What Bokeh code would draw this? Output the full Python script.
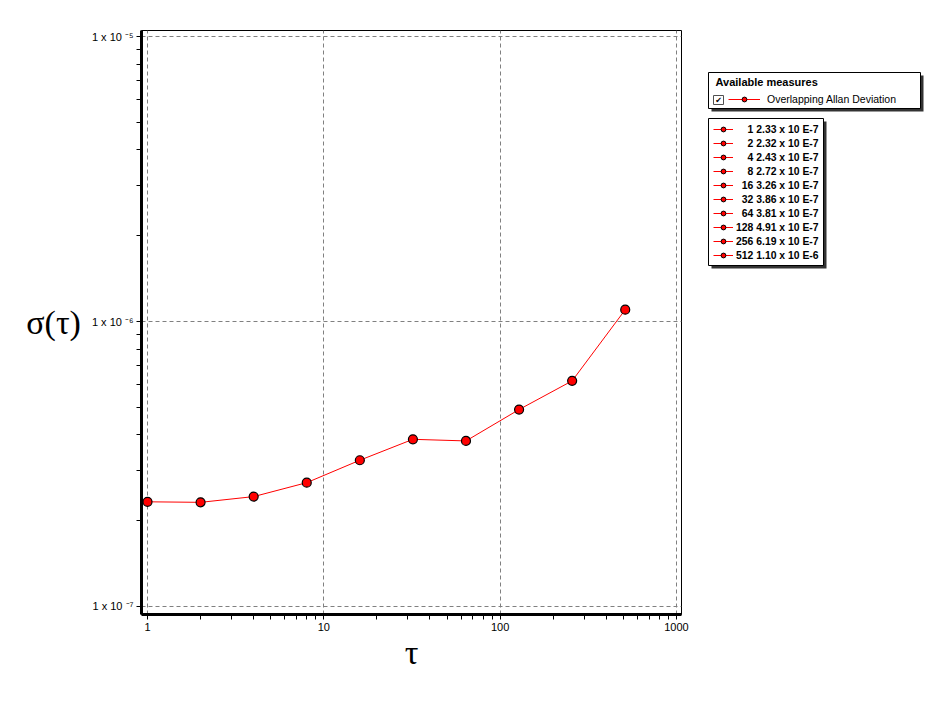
import math
from bokeh.plotting import figure
from bokeh.layouts import row
from bokeh.models import (Range1d, FixedTicker, CustomJSTickFormatter, Label,
                          BoxAnnotation, Legend, LegendItem)
from bokeh.embed import file_html
from bokeh.resources import INLINE

# ---------------- data ----------------
tau = [1, 2, 4, 8, 16, 32, 64, 128, 256, 512]
sigma = [2.33e-7, 2.32e-7, 2.43e-7, 2.72e-7, 3.26e-7, 3.86e-7, 3.81e-7, 4.91e-7, 6.19e-7, 1.10e-6]

x_major_ticks = [1, 10, 100, 1000]
x_minor_ticks = [2, 3, 4, 5, 6, 7, 8, 9, 20, 30, 40, 50, 60, 70, 80, 90,
                 200, 300, 400, 500, 600, 700, 800, 900]
y_major_ticks = [1e-7, 1e-6, 1e-5]
y_minor_ticks = [2e-7, 3e-7, 4e-7, 5e-7, 6e-7, 7e-7, 8e-7, 9e-7,
                 2e-6, 3e-6, 4e-6, 5e-6, 6e-6, 7e-6, 8e-6, 9e-6]
y_tick_base = "1 x 10"
y_tick_exponents = ["-7", "-6", "-5"]

x_title = "τ"
y_title = "σ(τ)"
legend_title = "Available measures"
series_name = "Overlapping Allan Deviation"

# ---------------- layout (page px) ----------------
H = 690
FL, FR, FT, FB = 141, 681, 30, 614   # main frame edges
WM = FR + 10                          # main figure width
WR = 930 - WM                         # legend strip width
RX0 = WM

XMIN, XMAX = 0.9245, 1067.6
YMIN, YMAX = 9.374e-8, 1.0497e-5

SUP = str.maketrans("-0123456789", "⁻⁰¹²³⁴⁵⁶⁷⁸⁹")
y_tick_labels = [f"{y_tick_base} {ex.translate(SUP)}" for ex in y_tick_exponents]

# ---------------- main plot ----------------
p = figure(width=WM, height=H, x_axis_type="log", y_axis_type="log",
           x_range=Range1d(XMIN, XMAX), y_range=Range1d(YMIN, YMAX),
           output_backend="svg", toolbar_location=None,
           min_border_left=FL, min_border_right=WM - FR,
           min_border_top=FT, min_border_bottom=H - FB)
p.background_fill_color = "white"
p.border_fill_color = "white"
p.outline_line_color = "black"
p.outline_line_width = 1

p.xaxis.ticker = FixedTicker(ticks=x_major_ticks, minor_ticks=x_minor_ticks)
p.yaxis.ticker = FixedTicker(ticks=y_major_ticks, minor_ticks=y_minor_ticks)
p.xaxis.formatter = CustomJSTickFormatter(code="return String(Math.round(tick));")
p.yaxis.formatter = CustomJSTickFormatter(
    args=dict(tvals=y_major_ticks, tlabels=y_tick_labels),
    code="""
const e = Math.round(Math.log10(tick));
for (let i = 0; i < tvals.length; i++) {
  if (Math.round(Math.log10(tvals[i])) == e) { return tlabels[i]; }
}
return '';
""")
for ax in (p.xaxis[0], p.yaxis[0]):
    ax.axis_line_width = 3
    ax.axis_line_color = "black"
    ax.major_tick_in = 0
    ax.major_tick_out = 5
    ax.minor_tick_in = 0
    ax.minor_tick_out = 5
    ax.major_tick_line_color = "black"
    ax.minor_tick_line_color = "black"
    ax.major_label_text_font = "Liberation Sans"
    ax.major_label_text_font_size = "11px"
    ax.major_label_text_color = "black"
    ax.axis_label_text_font = "Liberation Serif"
    ax.axis_label_text_font_size = "34px"
    ax.axis_label_text_font_style = "normal"
    ax.axis_label_text_color = "black"
p.yaxis.major_label_standoff = 3
p.xaxis.major_label_standoff = 3
p.xaxis.axis_label = x_title
p.xaxis.axis_label_standoff = 0
p.yaxis.axis_label = y_title
p.yaxis.axis_label_orientation = "horizontal"
p.yaxis.axis_label_standoff = 8

for g in (p.xgrid[0], p.ygrid[0]):
    g.grid_line_color = "#808080"
    g.grid_line_dash = "4 3"
    g.grid_line_width = 1

line_r = p.line(tau, sigma, line_color="red", line_width=1)
pts_r = p.scatter(tau, sigma, size=9, fill_color="red", line_color="black", line_width=1.2)

# ---------------- right strip: legends ----------------
right = figure(width=WR, height=H, x_range=Range1d(RX0, RX0 + WR), y_range=Range1d(FB, FT),
               output_backend="svg", toolbar_location=None,
               x_axis_location=None, y_axis_location=None,
               min_border_left=0, min_border_right=0,
               min_border_top=FT, min_border_bottom=H - FB)
right.outline_line_color = None
right.xgrid.visible = False
right.ygrid.visible = False
right.background_fill_color = "white"
right.border_fill_color = "white"

# legend glyph sources (same series; they lie outside this strip's ranges)
lg_line = right.line(tau, sigma, line_color="red", line_width=1)
lg_pts = right.scatter(tau, sigma, size=8, fill_color="red", line_color="black", line_width=1)

def box(l, t, r, b, fill, line=None):
    kw = dict(left=l, right=r, top=t, bottom=b, fill_color=fill, fill_alpha=1)
    if line is None:
        kw.update(line_alpha=0)
    else:
        kw.update(line_color=line, line_width=1, line_alpha=1)
    return BoxAnnotation(**kw)

# legend 1
right.add_layout(box(711, 75, 923, 111, "#333333"))
right.add_layout(box(708, 72, 920, 108, "white", "black"))
right.add_layout(Label(x=715, y=81, text=legend_title, text_align="left",
                       text_baseline="middle", text_font="Liberation Sans",
                       text_font_style="bold", text_font_size="11px", text_color="black"))
right.add_layout(box(713, 95, 723, 104, "white", "#505050"))
right.add_layout(Label(x=718, y=99.5, text="✔", text_align="center", text_baseline="middle",
                       text_font="DejaVu Sans", text_font_size="8px", text_color="black"))
leg1 = Legend(items=[LegendItem(label=series_name, renderers=[lg_line, lg_pts])],
              location=(728 - RX0, FB - 105), padding=0, margin=0, spacing=0,
              glyph_width=32, glyph_height=12, label_height=12, label_standoff=7,
              label_text_font="Liberation Sans", label_text_font_size="10.5px",
              label_text_color="black",
              border_line_alpha=0, background_fill_alpha=0)
right.add_layout(leg1)

# legend 2
right.add_layout(box(711, 121, 826, 268, "#333333"))
right.add_layout(box(708, 118, 823, 265, "white", "black"))
items2 = []
for t, v in zip(tau, sigma):
    e = math.floor(math.log10(v) + 1e-12)
    m = v / 10 ** e
    lab = f"{str(t).rjust(3, chr(0x2007))} {m:.2f} x 10 E{e}"
    items2.append(LegendItem(label=lab, renderers=[lg_line, lg_pts]))
leg2 = Legend(items=items2, location=(713 - RX0, FB - 261), padding=0, margin=0,
              spacing=2, glyph_width=20, glyph_height=12, label_height=12,
              label_standoff=3, label_text_font="Liberation Sans",
              label_text_font_size="10.4px", label_text_font_style="bold",
              label_text_color="black",
              border_line_alpha=0, background_fill_alpha=0)
right.add_layout(leg2)

layout = row(p, right)
open("out.html", "w").write(file_html(layout, INLINE))
